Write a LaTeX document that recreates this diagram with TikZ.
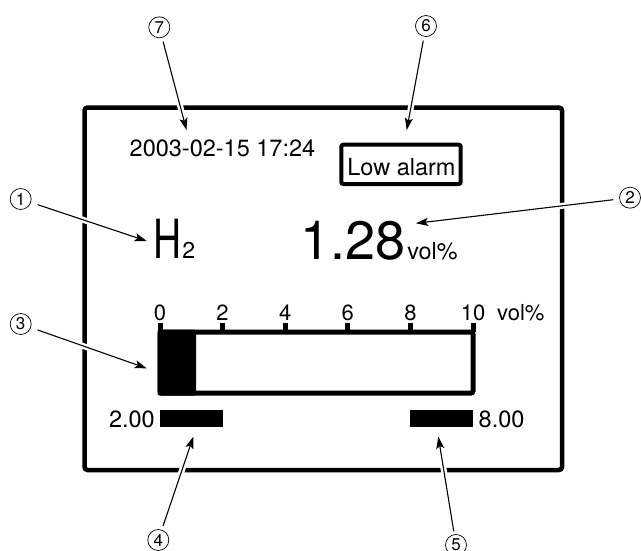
\documentclass[tikz,border=0pt]{standalone}
\usepackage{fontspec}
\setmainfont{TeX Gyre Heros}
\usetikzlibrary{arrows.meta}
\begin{document}
\begin{tikzpicture}[x=1pt,y=-1pt,
  num/.style={circle,draw,line width=0.7pt,minimum size=21pt,inner sep=0pt,font=\fontsize{17}{17}\selectfont},
  callout/.style={line width=1.1pt,-{Stealth[length=12pt,width=8pt,inset=2.5pt]},
     preaction={draw=white,line width=6pt,arrows=-,shorten >=16pt}},
  mid/.style={font=\fontsize{23.5}{28}\selectfont,inner sep=0pt},
  scalelbl/.style={font=\fontsize{22}{26}\selectfont,inner sep=0pt}]
\useasboundingbox (0,0) rectangle (641,550);
% outer frame
\draw[line width=4.5pt,rounded corners=3pt] (84.5,107.5) rectangle (562,470);
% date
\node[mid,anchor=base west] (date) at (129.5,156) {2003-02-15 17:24};
% alarm box
\draw[line width=4pt,rounded corners=2pt] (341.3,144.7) rectangle (460.7,184);
\node[mid,anchor=base] (alarm) at (401.5,175) {Low alarm};
% gas name
\node[inner sep=0pt,anchor=base west] (gas) at (153,258.5)
  {\fontsize{54}{60}\selectfont\scalebox{0.72}[1]{H}\fontsize{23}{26}\selectfont\kern1pt 2};
% value
\node[inner sep=0pt,anchor=base west] (value) at (300,259.3)
  {\fontsize{54}{60}\selectfont 1.28\fontsize{23.4}{28}\selectfont\kern2pt vol\%};
% bar graph
\fill[rounded corners=2pt] (157.5,329.5) rectangle (196,395.5);
\draw[line width=5pt,rounded corners=2pt] (160,332) rectangle (473,393);
\foreach \i/\l in {0/0,1/2,2/4,3/6,4/8,5/10}{
  \draw[line width=5pt] (160+62.6*\i,323) -- (160+62.6*\i,332);
  \node[scalelbl,anchor=base] (t\l) at (160+62.6*\i,320.7) {\l};
}
\node[scalelbl,anchor=base west] (unit) at (497,320.7) {vol\%};
% alarm set points
\node[mid,anchor=base east] (lo) at (155,427) {2.00};
\fill (160,410) rectangle (223.3,427.3);
\fill (410,410) rectangle (472.7,427.3);
\node[mid,anchor=base west] (hi) at (478.5,427) {8.00};
% callout numbers
\node[num] (c1) at (20.7,199) {1};
\node[num] (c2) at (630,197.7) {2};
\node[num] (c3) at (20.7,324) {3};
\node[num] (c4) at (158.3,540) {4};
\node[num] (c5) at (456,545) {5};
\node[num] (c6) at (426,26) {6};
\node[num] (c7) at (159.3,27.3) {7};
% arrow tips
\coordinate (p1) at (146.7,241);
\coordinate (p2) at (416,223.3);
\coordinate (p3) at (146.7,368.3);
\coordinate (p4) at (193.3,436.7);
\coordinate (p5) at (438.3,436.7);
\coordinate (p6) at (406.7,130);
\coordinate (p7) at (186.5,130);
\draw[callout,shorten <=7pt] (c1) -- (p1);
\draw[callout,shorten <=6pt] (c2) -- (p2);
\draw[callout,shorten <=7pt] (c3) -- (p3);
\draw[callout,shorten <=4pt] (c4) -- (p4);
\draw[callout,shorten <=3pt] (c5) -- (p5);
\draw[callout,shorten <=4pt] (c6) -- (p6);
\draw[callout,shorten <=4pt] (c7) -- (p7);
\end{tikzpicture}
\end{document}
